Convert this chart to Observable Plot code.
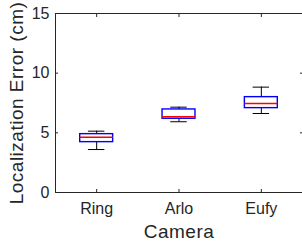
<!DOCTYPE html>
<html>
<head>
<meta charset="utf-8">
<script src="https://cdn.jsdelivr.net/npm/d3@7"></script>
<script src="https://cdn.jsdelivr.net/npm/@observablehq/plot@0.6"></script>
<style>
  html, body { margin: 0; padding: 0; background: #fff; }
  #chart svg { font-family: "Liberation Sans", Arial, Helvetica, sans-serif; }
  #chart g[aria-label="x-axis label"], #chart g[aria-label="y-axis label"] { font-size: 19px; letter-spacing: 0.5px; }
</style>
</head>
<body>
<div id="chart"></div>
<script>
const cameras = ["Ring", "Arlo", "Eufy"];
const whiskerLow = [3.6, 5.93, 6.62];
const q1 = [4.22, 6.18, 7.07];
const median = [4.64, 6.34, 7.46];
const q3 = [4.89, 6.96, 7.99];
const whiskerHigh = [5.14, 7.15, 8.83];
const yTicks = [0, 5, 10, 15];

const data = cameras.map((c, i) => ({
  camera: c, pos: i + 1,
  lo: whiskerLow[i], q1: q1[i], med: median[i], q3: q3[i], hi: whiskerHigh[i]
}));
const xTicks = data.map(d => d.pos);
const boxHalf = 0.2, capHalf = 0.1;
const ink = "#262626";

const chart = Plot.plot({
  width: 302,
  height: 242,
  marginLeft: 55,
  marginRight: 0,
  marginTop: 13,
  marginBottom: 50,
  style: {fontSize: "16px", color: ink, background: "#fff"},
  x: {domain: [0.5, 3.5]},
  y: {domain: [0, 15]},
  marks: [
    Plot.frame({stroke: ink}),
    Plot.axisX({anchor: "bottom", ticks: xTicks, tickFormat: v => cameras[v - 1], tickSize: -3, tickPadding: 13,
      label: "Camera", labelAnchor: "center", labelArrow: "none", labelOffset: 45, stroke: ink, fill: ink}),
    Plot.axisX({anchor: "top", ticks: xTicks, tickSize: -3, fill: "none", label: null, stroke: ink}),
    Plot.axisY({anchor: "left", ticks: yTicks, tickSize: -3, tickPadding: 9,
      label: "Localization Error (cm)", labelAnchor: "center", labelArrow: "none", labelOffset: 46, stroke: ink, fill: ink}),
    Plot.axisY({anchor: "right", ticks: yTicks, tickSize: -3, fill: "none", label: null, stroke: ink}),
    Plot.ruleX(data, {x: "pos", y1: "lo", y2: "q1", stroke: "#000"}),
    Plot.ruleX(data, {x: "pos", y1: "q3", y2: "hi", stroke: "#000"}),
    Plot.ruleY(data, {y: "lo", x1: d => d.pos - capHalf, x2: d => d.pos + capHalf, stroke: "#000"}),
    Plot.ruleY(data, {y: "hi", x1: d => d.pos - capHalf, x2: d => d.pos + capHalf, stroke: "#000"}),
    Plot.rect(data, {x1: d => d.pos - boxHalf, x2: d => d.pos + boxHalf, y1: "q1", y2: "q3", fill: "none", stroke: "#0000ff", strokeWidth: 1.4}),
    Plot.ruleY(data, {y: "med", x1: d => d.pos - boxHalf, x2: d => d.pos + boxHalf, stroke: "#ff0000", strokeWidth: 1.5})
  ]
});
document.getElementById("chart").appendChild(chart);
</script>
</body>
</html>
